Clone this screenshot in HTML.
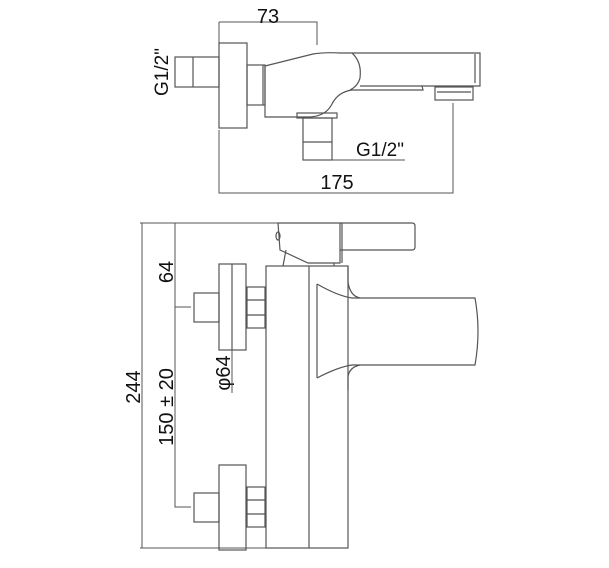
<!DOCTYPE html>
<html><head><style>html,body{margin:0;padding:0;background:#fff}svg{display:block}</style></head>
<body>
<svg width="609" height="568" viewBox="0 0 609 568" xmlns="http://www.w3.org/2000/svg" font-family="Liberation Sans, sans-serif" fill="none" stroke="#555" stroke-width="1.2">
<!-- TOP VIEW -->
<path d="M219 22V45M219 22H317V45" stroke-width="1"/>
<text x="268" y="23" font-size="20" fill="#111" stroke="none" text-anchor="middle">73</text>
<rect x="175" y="57" width="44" height="30"/>
<line x1="193" y1="57" x2="193" y2="87"/>
<text transform="translate(168,72) rotate(-90)" font-size="19" fill="#111" stroke="none" text-anchor="middle">G1/2"</text>
<rect x="219" y="43" width="28" height="85"/>
<rect x="247" y="65" width="18" height="40"/>
<line x1="263" y1="65" x2="263" y2="105"/>
<path d="M265 66L313 54Q325 52 340 53H480V86H422L423 90H352Q338 92 332 104Q326 116 310 117H265Z"/>
<path d="M352 53Q362 62 360 78Q358 86 350 90"/>
<path d="M475 54V83"/>
<path d="M360 86H422"/>
<rect x="435" y="87" width="38" height="13"/>
<line x1="437" y1="92" x2="471" y2="92"/>
<rect x="297" y="113" width="40" height="5"/>
<rect x="303" y="118" width="29" height="42"/>
<line x1="303" y1="142" x2="332" y2="142"/>
<line x1="332" y1="160" x2="405" y2="160" stroke-width="1"/>
<text x="380" y="156" font-size="19" fill="#111" stroke="none" text-anchor="middle">G1/2"</text>
<path d="M219 130V193H453V103" stroke-width="1"/>
<text x="337" y="189" font-size="20" fill="#111" stroke="none" text-anchor="middle">175</text>

<!-- FRONT VIEW -->
<path d="M140 223H306M142 223V548M175 223V307M175 307H191M175 307V507H191M140 548H348" stroke-width="1"/>
<text transform="translate(173,272) rotate(-90)" font-size="20" fill="#111" stroke="none" text-anchor="middle">64</text>
<text transform="translate(140,387) rotate(-90)" font-size="20" fill="#111" stroke="none" text-anchor="middle">244</text>
<text transform="translate(173,407) rotate(-90)" font-size="20" fill="#111" stroke="none" text-anchor="middle">150 ± 20</text>
<text transform="translate(230,373) rotate(-90)" font-size="20" fill="#111" stroke="none" text-anchor="middle">φ64</text>
<line x1="232" y1="350" x2="232" y2="393" stroke-width="1"/>
<path d="M278 223H340V263H308L280 250Z"/>
<path d="M340 223H412Q415 223 415 226V247Q415 250 412 250H340"/>
<line x1="342" y1="223" x2="342" y2="263"/>
<path d="M286 250L283 266M334 263V266"/>
<ellipse cx="278" cy="236" rx="2" ry="4"/>
<rect x="266" y="266" width="82" height="282"/>
<line x1="309" y1="266" x2="309" y2="548"/>
<path d="M317 284V378"/>
<path d="M317 284Q338 296 352 298H475Q481 331 475 365H352Q338 367 317 378"/>
<path d="M348 266V282Q350 296 360 298M348 390V376Q350 367 360 365"/>
<rect x="219" y="264" width="27" height="86"/>
<line x1="232" y1="264" x2="232" y2="350"/>
<rect x="194" y="293" width="25" height="29"/>
<rect x="247" y="287" width="18" height="41"/>
<path d="M247 300H265M247 315H265"/>
<rect x="219" y="465" width="27" height="85"/>
<rect x="194" y="493" width="25" height="29"/>
<rect x="247" y="487" width="18" height="40"/>
<path d="M247 500H265M247 514H265"/>
</svg>
</body></html>
